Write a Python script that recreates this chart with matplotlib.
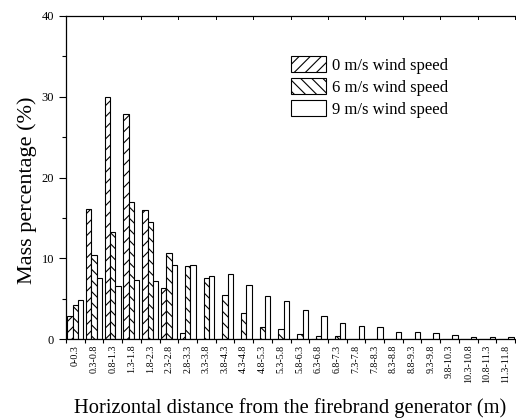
import numpy as np
import matplotlib
matplotlib.use("Agg")
import matplotlib.pyplot as plt
from matplotlib.ticker import MultipleLocator, FixedLocator

categories = ["0-0.3", "0.3-0.8", "0.8-1.3", "1.3-1.8", "1.8-2.3", "2.3-2.8",
              "2.8-3.3", "3.3-3.8", "3.8-4.3", "4.3-4.8", "4.8-5.3", "5.3-5.8",
              "5.8-6.3", "6.3-6.8", "6.8-7.3", "7.3-7.8", "7.8-8.3", "8.3-8.8",
              "8.8-9.3", "9.3-9.8", "9.8-10.3", "10.3-10.8", "10.8-11.3", "11.3-11.8"]
wind0 = [2.9, 16.1, 30.0, 27.9, 16.0, 6.3, 0.8, 0, 0, 0, 0, 0,
         0, 0, 0, 0, 0, 0, 0, 0, 0, 0, 0, 0]
wind6 = [4.3, 10.4, 13.3, 17.0, 14.5, 10.7, 9.1, 7.6, 5.5, 3.2, 1.5, 1.3,
         0.65, 0.45, 0.45, 0, 0, 0, 0, 0, 0, 0, 0, 0]
wind9 = [4.9, 7.6, 6.6, 7.3, 7.2, 9.2, 9.25, 7.8, 8.05, 6.75, 5.3, 4.8,
         3.6, 2.9, 2.0, 1.7, 1.5, 0.95, 0.95, 0.75, 0.55, 0.25, 0.25, 0.25]
labels = ["0 m/s wind speed", "6 m/s wind speed", "9 m/s wind speed"]

plt.rcParams['font.family'] = ['Liberation Serif', 'DejaVu Serif']
plt.rcParams['hatch.linewidth'] = 0.8

fig = plt.figure(figsize=(5.16, 4.19), dpi=100)
ax = fig.add_axes([66/516, 1 - 339.3/419, 449/516, (339.3 - 16)/419])

x = np.arange(len(categories))
w = 0.285
ax.bar(x - w, wind0, w, facecolor='white', edgecolor='black', hatch='///', linewidth=0.8, label=labels[0])
ax.bar(x, wind6, w, facecolor='white', edgecolor='black', hatch='\\\\\\', linewidth=0.8, label=labels[1])
ax.bar(x + w, wind9, w, facecolor='white', edgecolor='black', linewidth=0.8, label=labels[2])

ax.set_xlim(-0.5, len(categories) - 0.5)
ax.set_ylim(0, 40)
ax.yaxis.set_major_locator(MultipleLocator(10))
ax.yaxis.set_minor_locator(MultipleLocator(5))
ax.set_xticks(x)
ax.set_xticklabels(categories, rotation=90, fontsize=7.2)
ax.xaxis.set_minor_locator(FixedLocator(np.arange(-0.5, len(categories), 1.0)))
ax.tick_params(axis='x', which='major', length=0, pad=4)
ax.tick_params(axis='x', which='minor', length=3, direction='out', width=0.8)
ax.tick_params(axis='y', which='major', length=5, direction='out', labelsize=9, width=0.8)
ax.tick_params(axis='y', which='minor', length=3, direction='out', width=0.8)

ax.spines['right'].set_visible(False)
for s in ['left', 'bottom', 'top']:
    ax.spines[s].set_linewidth(0.9)

# top inward ticks
for xv in np.arange(1.5, len(categories), 2.0):
    ax.plot([xv, xv], [40, 39.6], color='black', lw=0.7, clip_on=False)

ax.set_ylabel("Mass percentage (%)", fontsize=16)
ax.yaxis.set_label_coords(-0.064, 0.462)
ax.set_xlabel("Horizontal distance from the firebrand generator (m)", fontsize=14.8)
ax.xaxis.set_label_coords(0.5, -0.183)

leg = ax.legend(loc='upper left', bbox_to_anchor=(0.5, 0.876), frameon=False, fontsize=12,
                handlelength=2.15, handleheight=1.05, labelspacing=0.28, borderpad=0,
                handletextpad=0.35, borderaxespad=0)

fig.savefig("out.png", dpi=100)
